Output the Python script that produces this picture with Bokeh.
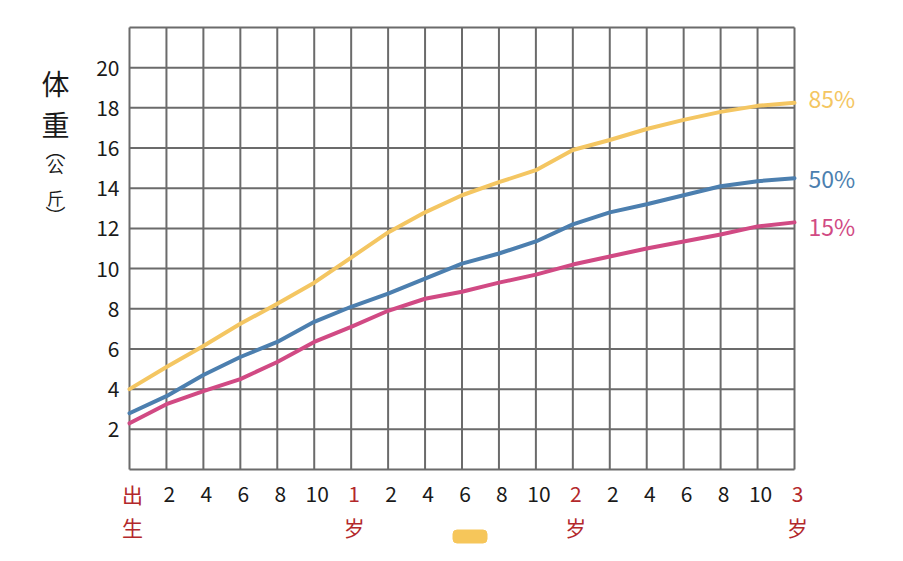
from bokeh.plotting import figure
from bokeh.models import Range1d
from bokeh.core.properties import value
from bokeh.embed import file_html
from bokeh.resources import INLINE

# ---- data (months from birth, weight in kg) ----
months = [0, 2, 4, 6, 8, 10, 12, 14, 16, 18, 20, 22, 24, 26, 28, 30, 32, 34, 36]
p85 = [4.0, 5.1, 6.15, 7.25, 8.25, 9.3, 10.55, 11.8, 12.8, 13.65, 14.3, 14.9,
       15.9, 16.4, 16.95, 17.4, 17.8, 18.1, 18.25]
p50 = [2.8, 3.65, 4.7, 5.6, 6.35, 7.35, 8.1, 8.75, 9.5, 10.25, 10.75, 11.35,
       12.2, 12.8, 13.2, 13.65, 14.1, 14.35, 14.5]
p15 = [2.3, 3.25, 3.9, 4.5, 5.35, 6.35, 7.1, 7.9, 8.5, 8.85, 9.3, 9.7,
       10.2, 10.6, 11.0, 11.35, 11.7, 12.1, 12.3]

series_names = ["85%", "50%", "15%"]
series_colors = ["#F4C662", "#4C7FAF", "#D14A84"]

x_tick_values = months
x_top_labels = ["出", "2", "4", "6", "8", "10", "1", "2", "4", "6", "8", "10",
                "2", "2", "4", "6", "8", "10", "3"]
x_bottom_labels = ["生", "", "", "", "", "", "岁", "", "", "", "", "",
                   "岁", "", "", "", "", "", "岁"]
y_tick_values = [2, 4, 6, 8, 10, 12, 14, 16, 18, 20]
y_grid_values = [0, 2, 4, 6, 8, 10, 12, 14, 16, 18, 20, 22]
y_title_chars = ["体", "重", "︵", "公", "斤", "︶"]

RED = "#B3282B"
BLACK = "#1a1a1a"
GRID = "#6b6b6b"
FONT = "Noto Sans CJK SC"

# ---- layout (pixels) ----
W, H = 887, 545
PLOT_L, PLOT_R, PLOT_T, PLOT_B = 129, 794, 27, 469
X0, X1 = x_tick_values[0], x_tick_values[-1]
Y0, Y1 = y_grid_values[0], y_grid_values[-1]
ppx = (PLOT_R - PLOT_L) / (X1 - X0)
ppy = (PLOT_B - PLOT_T) / (Y1 - Y0)
xr = Range1d(X0 - PLOT_L / ppx, X1 + (W - PLOT_R) / ppx)
yr = Range1d(Y0 - (H - PLOT_B) / ppy, Y1 + PLOT_T / ppy)

p = figure(width=W, height=H, output_backend="svg", toolbar_location=None,
           x_range=xr, y_range=yr, min_border=0)
p.axis.visible = False
p.grid.visible = False
p.outline_line_color = None
p.background_fill_color = "white"
p.border_fill_color = "white"

# grid (every tick, frame edges included)
p.segment(x0=x_tick_values, y0=[Y0] * len(x_tick_values),
          x1=x_tick_values, y1=[Y1] * len(x_tick_values),
          line_color=GRID, line_width=2)
p.segment(x0=[X0] * len(y_grid_values), y0=y_grid_values,
          x1=[X1] * len(y_grid_values), y1=y_grid_values,
          line_color=GRID, line_width=2)

# percentile curves
for vals, col in zip([p85, p50, p15], series_colors):
    p.line(months, vals, line_color=col, line_width=4, line_cap="round",
           line_join="round")

# right-end series labels
p.text(x=[X1] * 3, y=[p85[-1], p50[-1], p15[-1]], text=series_names,
       text_color=series_colors, x_offset=14, y_offset=[-5, 0, 4],
       text_baseline="middle", text_align="left",
       text_font=value(FONT), text_font_size="23px")

# y tick labels
p.text(x=[X0] * len(y_tick_values), y=y_tick_values,
       text=[str(v) for v in y_tick_values], x_offset=-10,
       text_align="right", text_baseline="middle", text_color=BLACK,
       text_font=value(FONT), text_font_size="21px")

# x tick labels (two rows)
top_colors = [RED if b else BLACK for b in x_bottom_labels]
p.text(x=x_tick_values, y=[Y0] * len(x_tick_values), text=x_top_labels,
       text_color=top_colors, text_align="center", text_baseline="middle",
       x_offset=3, y_offset=24, text_font=value(FONT), text_font_size="21px")
p.text(x=x_tick_values, y=[Y0] * len(x_tick_values), text=x_bottom_labels,
       text_color=RED, text_align="center", text_baseline="middle",
       x_offset=3, y_offset=57, text_font=value(FONT), text_font_size="21px")

# small yellow highlighter mark below the axis
p.rect(x=[x_tick_values[9] + 8 / ppx], y=[Y0 - 67 / ppy], width=34, height=13,
       width_units="screen", height_units="screen", border_radius=4,
       fill_color="#F6C65A", line_color="#F6C65A")

# vertical axis title, stacked characters
title_dy = [-387, -346, -320, -304, -272, -254]
title_fs = ["28px", "28px", "20px", "17px", "17px", "20px"]
for ch, dy, fs in zip(y_title_chars, title_dy, title_fs):
    p.text(x=[X0], y=[Y0], text=[ch], x_offset=-74, y_offset=dy,
           text_font=value(FONT), text_font_size=fs, text_align="center",
           text_baseline="middle", text_color=BLACK)

open("out.html", "w").write(file_html(p, INLINE))
